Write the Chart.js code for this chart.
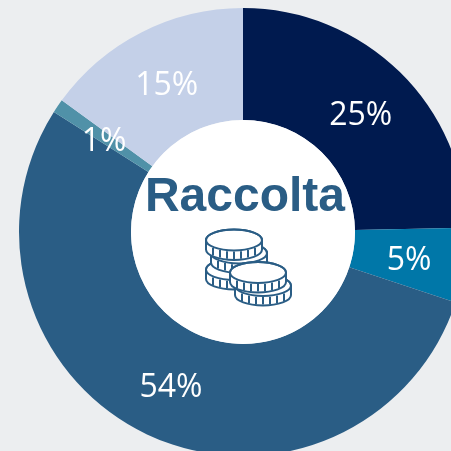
<!DOCTYPE html>
<html>
<head>
<meta charset="utf-8">
<title>Raccolta</title>
<script src="https://cdn.jsdelivr.net/npm/chart.js@4"></script>
<style>
  html, body { margin: 0; padding: 0; background: #eceef0; }
  #wrap { width: 451px; height: 451px; overflow: hidden; position: relative; }
  #chart { position: absolute; left: 0; top: 0; }
</style>
</head>
<body>
<div id="wrap"><canvas id="chart" width="486" height="464"></canvas></div>
<script>
var categorie = ['A', 'B', 'C', 'D', 'E'];
var valori = [24.7, 5.4, 53.9, 1, 15];
var colori = ['#001a4f', '#0077a8', '#2a5d85', '#5091a8', '#c4d0e8'];
var titolo = 'Raccolta';
var BLU = '#2a5d85';

// one coin: top face plus the ribbed rim below it
function moneta(ctx, cx, cy) {
  var rx = 28, ry = 10.5, h = 9.5;
  ctx.beginPath();
  ctx.moveTo(cx - rx, cy);
  ctx.lineTo(cx - rx, cy + h);
  ctx.ellipse(cx, cy + h, rx, ry, 0, Math.PI, 0, true);
  ctx.lineTo(cx + rx, cy);
  ctx.ellipse(cx, cy, rx, ry, 0, 0, Math.PI, true);
  ctx.closePath();
  ctx.fillStyle = '#fff';
  ctx.fill();
  ctx.stroke();
  ctx.beginPath();
  ctx.ellipse(cx, cy, rx, ry, 0, 0, Math.PI * 2);
  ctx.stroke();
  ctx.save();
  ctx.lineWidth = 2;
  for (var i = -3; i <= 3; i++) {
    var x = cx + i * 7;
    var y = cy + ry * Math.sqrt(1 - (x - cx) * (x - cx) / (rx * rx));
    ctx.beginPath();
    ctx.moveTo(x, y + 1);
    ctx.lineTo(x, y + h - 1);
    ctx.stroke();
  }
  ctx.restore();
}

var etichette = {
  id: 'etichette',
  afterDraw: function (chart) {
    var ctx = chart.ctx;
    var archi = chart.getDatasetMeta(0).data;
    ctx.save();
    ctx.textAlign = 'center';
    ctx.textBaseline = 'middle';

    ctx.fillStyle = '#fff';
    ctx.font = '32px "Open Sans"';
    archi.forEach(function (arco, i) {
      var p = arco.getCenterPoint();
      ctx.fillText(Math.round(valori[i]) + '%', p.x, p.y + 4);
    });

    var cx = archi[0].x, cy = archi[0].y;
    ctx.fillStyle = '#fff';
    ctx.beginPath();
    ctx.arc(cx, cy, archi[0].innerRadius, 0, Math.PI * 2);
    ctx.fill();

    ctx.fillStyle = BLU;
    ctx.font = 'bold 48px "Liberation Sans"';
    ctx.fillText(titolo, cx + 2, cy - 34);

    ctx.strokeStyle = BLU;
    ctx.lineWidth = 2;
    moneta(ctx, cx - 9, cy + 37.5);
    moneta(ctx, cx - 4, cy + 21);
    moneta(ctx, cx - 9, cy + 8);
    moneta(ctx, cx + 20, cy + 53.5);
    moneta(ctx, cx + 15, cy + 40.5);
    ctx.restore();
  }
};

new Chart(document.getElementById('chart').getContext('2d'), {
  type: 'doughnut',
  data: {
    labels: categorie,
    datasets: [{
      data: valori,
      backgroundColor: colori,
      borderWidth: 0
    }]
  },
  options: {
    responsive: false,
    animation: false,
    cutout: '50%',
    layout: { padding: 8 },
    plugins: {
      legend: { display: false },
      tooltip: { enabled: false }
    }
  },
  plugins: [etichette]
});
</script>
</body>
</html>
